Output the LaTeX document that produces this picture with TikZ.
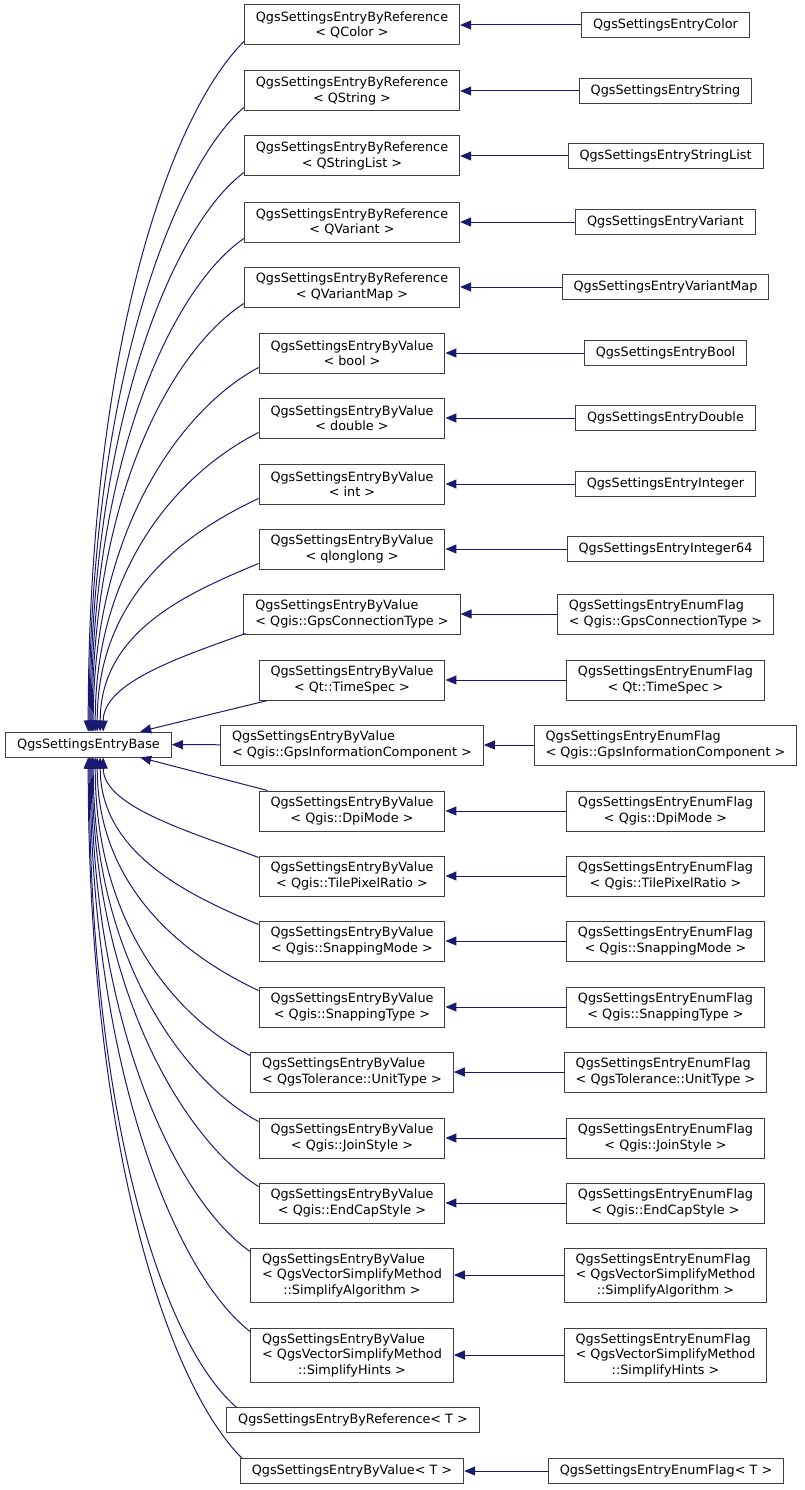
\documentclass[tikz,border=0pt]{standalone}
\usepackage{fontspec}
\setmainfont{DejaVu Sans}
\usepackage{tikz}
\usetikzlibrary{arrows.meta}
\definecolor{edgeblue}{RGB}{25,25,112}
\definecolor{boxgray}{RGB}{64,64,64}
\newcommand{\classfont}{\fontsize{12.8}{15.5}\selectfont}
\newcommand{\padto}[2]{\rlap{#1}\phantom{#2}}

\begin{document}
\begin{tikzpicture}[
  x=1pt, y=-1pt,
  cls/.style={draw=boxgray, fill=white, line width=1pt, font=\classfont, align=center, inner xsep=11.5pt, inner ysep=0pt, minimum height=25},
  cls2/.style={cls, minimum height=40},
  cls3/.style={cls, minimum height=54},
  inherit/.style={-{Triangle[length=11pt,width=9pt]}, draw=edgeblue, line width=1pt}
]
  \useasboundingbox (0,0) rectangle (804,1490);
  % --- base class ---
  \node[cls] (base) at (88.5,744.5) {QgsSettingsEntryBase};

  % --- templates (middle column) ---
  \node[cls2] (rColor) at (352,25) {QgsSettingsEntryByReference\\< QColor >};
  \node[cls2] (rString) at (352,91) {QgsSettingsEntryByReference\\< QString >};
  \node[cls2] (rStringList) at (352,156) {QgsSettingsEntryByReference\\< QStringList >};
  \node[cls2] (rVariant) at (352,222) {QgsSettingsEntryByReference\\< QVariant >};
  \node[cls2] (rVariantMap) at (352,287) {QgsSettingsEntryByReference\\< QVariantMap >};
  \node[cls2] (vBool) at (352,353) {QgsSettingsEntryByValue\\< bool >};
  \node[cls2] (vDouble) at (352,418) {QgsSettingsEntryByValue\\< double >};
  \node[cls2] (vInt) at (352,484) {QgsSettingsEntryByValue\\< int >};
  \node[cls2] (vLongLong) at (352,549) {QgsSettingsEntryByValue\\< qlonglong >};
  \node[cls2, align=left] (vGpsConn) at (352,614) {QgsSettingsEntryByValue\\< Qgis::GpsConnectionType >};
  \node[cls2] (vTimeSpec) at (352,680) {QgsSettingsEntryByValue\\< Qt::TimeSpec >};
  \node[cls2, align=left] (vGpsInfo) at (352,745) {QgsSettingsEntryByValue\\< Qgis::GpsInformationComponent >};
  \node[cls2] (vDpi) at (352,811) {QgsSettingsEntryByValue\\< Qgis::DpiMode >};
  \node[cls2] (vTile) at (352,876) {QgsSettingsEntryByValue\\< Qgis::TilePixelRatio >};
  \node[cls2] (vSnapMode) at (352,941) {QgsSettingsEntryByValue\\< Qgis::SnappingMode >};
  \node[cls2] (vSnapType) at (352,1007) {QgsSettingsEntryByValue\\< Qgis::SnappingType >};
  \node[cls2, align=left] (vTol) at (352,1072) {QgsSettingsEntryByValue\\< QgsTolerance::UnitType >};
  \node[cls2] (vJoin) at (352,1138) {QgsSettingsEntryByValue\\< Qgis::JoinStyle >};
  \node[cls2] (vEndCap) at (352,1203) {QgsSettingsEntryByValue\\< Qgis::EndCapStyle >};
  \node[cls3] (vAlgo) at (352,1275) {\padto{QgsSettingsEntryByValue}{< QgsVectorSimplifyMethod}\\< QgsVectorSimplifyMethod\\::SimplifyAlgorithm >};
  \node[cls3] (vHints) at (352,1355) {\padto{QgsSettingsEntryByValue}{< QgsVectorSimplifyMethod}\\< QgsVectorSimplifyMethod\\::SimplifyHints >};
  \node[cls] (rT) at (353,1420) {QgsSettingsEntryByReference< T >};
  \node[cls] (vT) at (352,1471) {QgsSettingsEntryByValue< T >};

  % --- concrete classes (right column) ---
  \node[cls] (cColor) at (665.5,25) {QgsSettingsEntryColor};
  \node[cls] (cString) at (665.5,91) {QgsSettingsEntryString};
  \node[cls] (cStringList) at (665.5,156) {QgsSettingsEntryStringList};
  \node[cls] (cVariant) at (665.5,222) {QgsSettingsEntryVariant};
  \node[cls] (cVariantMap) at (665.5,287) {QgsSettingsEntryVariantMap};
  \node[cls] (cBool) at (665.5,353) {QgsSettingsEntryBool};
  \node[cls] (cDouble) at (665.5,418) {QgsSettingsEntryDouble};
  \node[cls] (cInt) at (665.5,484) {QgsSettingsEntryInteger};
  \node[cls] (cInt64) at (665.5,549) {QgsSettingsEntryInteger64};
  \node[cls2, align=left] (fGpsConn) at (665.5,614) {QgsSettingsEntryEnumFlag\\< Qgis::GpsConnectionType >};
  \node[cls2] (fTimeSpec) at (665.5,680) {QgsSettingsEntryEnumFlag\\< Qt::TimeSpec >};
  \node[cls2, align=left] (fGpsInfo) at (665.5,745) {QgsSettingsEntryEnumFlag\\< Qgis::GpsInformationComponent >};
  \node[cls2] (fDpi) at (665.5,811) {QgsSettingsEntryEnumFlag\\< Qgis::DpiMode >};
  \node[cls2] (fTile) at (665.5,876) {QgsSettingsEntryEnumFlag\\< Qgis::TilePixelRatio >};
  \node[cls2] (fSnapMode) at (665.5,941) {QgsSettingsEntryEnumFlag\\< Qgis::SnappingMode >};
  \node[cls2] (fSnapType) at (665.5,1007) {QgsSettingsEntryEnumFlag\\< Qgis::SnappingType >};
  \node[cls2, align=left] (fTol) at (665.5,1072) {QgsSettingsEntryEnumFlag\\< QgsTolerance::UnitType >};
  \node[cls2] (fJoin) at (665.5,1138) {QgsSettingsEntryEnumFlag\\< Qgis::JoinStyle >};
  \node[cls2] (fEndCap) at (665.5,1203) {QgsSettingsEntryEnumFlag\\< Qgis::EndCapStyle >};
  \node[cls3] (fAlgo) at (665.5,1275) {\padto{QgsSettingsEntryEnumFlag}{< QgsVectorSimplifyMethod}\\< QgsVectorSimplifyMethod\\::SimplifyAlgorithm >};
  \node[cls3] (fHints) at (665.5,1355) {\padto{QgsSettingsEntryEnumFlag}{< QgsVectorSimplifyMethod}\\< QgsVectorSimplifyMethod\\::SimplifyHints >};
  \node[cls] (fT) at (666,1471) {QgsSettingsEntryEnumFlag< T >};

  % --- right column to templates ---
  \draw[inherit] (cColor) -- (rColor);
  \draw[inherit] (cString) -- (rString);
  \draw[inherit] (cStringList) -- (rStringList);
  \draw[inherit] (cVariant) -- (rVariant);
  \draw[inherit] (cVariantMap) -- (rVariantMap);
  \draw[inherit] (cBool) -- (vBool);
  \draw[inherit] (cDouble) -- (vDouble);
  \draw[inherit] (cInt) -- (vInt);
  \draw[inherit] (cInt64) -- (vLongLong);
  \draw[inherit] (fGpsConn) -- (vGpsConn);
  \draw[inherit] (fTimeSpec) -- (vTimeSpec);
  \draw[inherit] (fGpsInfo) -- (vGpsInfo);
  \draw[inherit] (fDpi) -- (vDpi);
  \draw[inherit] (fTile) -- (vTile);
  \draw[inherit] (fSnapMode) -- (vSnapMode);
  \draw[inherit] (fSnapType) -- (vSnapType);
  \draw[inherit] (fTol) -- (vTol);
  \draw[inherit] (fJoin) -- (vJoin);
  \draw[inherit] (fEndCap) -- (vEndCap);
  \draw[inherit] (fAlgo) -- (vAlgo);
  \draw[inherit] (fHints) -- (vHints);
  \draw[inherit] (fT) -- (vT);

  % --- templates to base, upper fan ---
  \draw[inherit] ([yshift=4pt]rColor.south west) .. controls +(-75,75) and +(0,-380) .. ([xshift=83pt]base.north west);
  \draw[inherit] ([yshift=4pt]rString.south west) .. controls +(-70,60) and +(0,-345) .. ([xshift=84pt]base.north west);
  \draw[inherit] ([yshift=4pt]rStringList.south west) .. controls +(-70,52) and +(0,-310) .. ([xshift=85pt]base.north west);
  \draw[inherit] ([yshift=4pt]rVariant.south west) .. controls +(-70,48) and +(0,-275) .. ([xshift=86pt]base.north west);
  \draw[inherit] ([yshift=4pt]rVariantMap.south west) .. controls +(-70,45) and +(0,-240) .. ([xshift=87pt]base.north west);
  \draw[inherit] ([yshift=6pt]vBool.south west) .. controls +(-75,40) and +(0,-205) .. ([xshift=88pt]base.north west);
  \draw[inherit] ([yshift=6pt]vDouble.south west) .. controls +(-75,38) and +(0,-170) .. ([xshift=90pt]base.north west);
  \draw[inherit] ([yshift=6pt]vInt.south west) .. controls +(-75,35) and +(0,-135) .. ([xshift=92pt]base.north west);
  \draw[inherit] ([yshift=6pt]vLongLong.south west) .. controls +(-72,30) and +(0,-100) .. ([xshift=95pt]base.north west);
  \draw[inherit] ([xshift=2pt,yshift=1pt]vGpsConn.south west) .. controls +(-60,22) and +(0,-50) .. ([xshift=98pt]base.north west);
  \draw[inherit] ([xshift=9pt]vTimeSpec.south west) -- ([xshift=135pt]base.north west);
  \draw[inherit] (vGpsInfo) -- (base);
  % --- templates to base, lower fan ---
  \draw[inherit] ([xshift=9pt]vDpi.north west) -- ([xshift=135pt]base.south west);
  \draw[inherit] ([yshift=-2pt]vTile.north west) .. controls +(-65,-25) and +(0,50) .. ([xshift=98pt]base.south west);
  \draw[inherit] ([yshift=-4pt]vSnapMode.north west) .. controls +(-72,-30) and +(0,95) .. ([xshift=95pt]base.south west);
  \draw[inherit] ([yshift=-4pt]vSnapType.north west) .. controls +(-75,-35) and +(0,130) .. ([xshift=92pt]base.south west);
  \draw[inherit] ([yshift=-4pt]vTol.north west) .. controls +(-75,-38) and +(0,165) .. ([xshift=90pt]base.south west);
  \draw[inherit] ([yshift=-4pt]vJoin.north west) .. controls +(-75,-40) and +(0,200) .. ([xshift=88pt]base.south west);
  \draw[inherit] ([yshift=-4pt]vEndCap.north west) .. controls +(-72,-45) and +(0,235) .. ([xshift=87pt]base.south west);
  \draw[inherit] ([yshift=-4pt]vAlgo.north west) .. controls +(-72,-50) and +(0,270) .. ([xshift=86pt]base.south west);
  \draw[inherit] ([yshift=-4pt]vHints.north west) .. controls +(-72,-55) and +(0,315) .. ([xshift=85pt]base.south west);
  \draw[inherit] ([xshift=10pt]rT.north west) .. controls +(-75,-65) and +(0,355) .. ([xshift=84pt]base.south west);
  \draw[inherit] ([xshift=2pt]vT.north west) .. controls +(-75,-75) and +(0,385) .. ([xshift=83pt]base.south west);
\end{tikzpicture}
\end{document}
